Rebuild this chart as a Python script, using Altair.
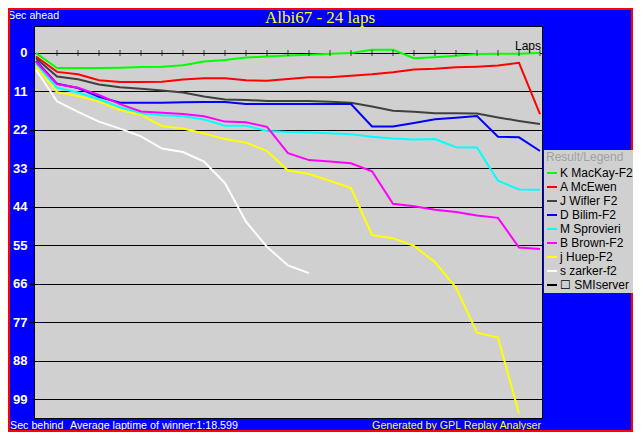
import altair as alt
import pandas as pd

# ---- data ----
laps = list(range(25))
drivers = ["K MacKay-F2", "A McEwen", "J Wifler F2", "D Bilim-F2",
           "M Sprovieri", "B Brown-F2", "j Huep-F2", "s zarker-f2"]
extra_entry = "\u2610 SMIserver"
colors = ["#00ff00", "#ff0000", "#404040", "#0000ff",
          "#00ffff", "#ff00ff", "#ffff00", "#ffffff", "#000000"]

mackay = [0, 4.3, 4.3, 4.3, 4.2, 4.0, 3.9, 3.5, 2.4, 2.0, 1.3, 1.0, 0.75, 0.5,
          0.2, 0.0, -0.9, -0.9, 1.5, 1.2, 0.8, 0.3, 0.2, 0.2, 0.0]
mcewen = [1.0, 5.4, 6.1, 7.8, 8.3, 8.3, 8.2, 7.6, 7.25, 7.2, 7.8, 7.9, 7.4, 6.9,
          6.9, 6.5, 6.1, 5.5, 4.7, 4.5, 4.1, 3.9, 3.6, 2.8, 17.5]
wifler = [1.5, 6.7, 7.5, 9.0, 9.8, 10.2, 10.7, 11.3, 12.4, 13.3, 13.4, 13.7, 13.7,
          13.7, 13.9, 14.2, 15.3, 16.5, 16.8, 17.2, 17.2, 17.3, 18.4, 19.4, 20.3]
bilim = [2.3, 8.8, 10.0, 12.5, 14.2, 14.2, 14.2, 14.1, 14.0, 14.0, 14.6, 14.6,
         14.6, 14.6, 14.6, 14.6, 21.0, 21.0, 20.0, 18.9, 18.5, 18.0, 23.9, 24.1, 28.0]
sprovieri = [3.2, 9.9, 11.3, 13.2, 15.5, 17.2, 17.8, 18.1, 19.0, 20.8, 20.8, 22.3,
             22.6, 22.7, 22.9, 23.2, 23.9, 24.4, 24.7, 24.6, 26.9, 27.0, 36.5, 39.0, 39.1]
brown = [2.5, 8.9, 9.9, 12.0, 14.6, 16.7, 17.1, 17.4, 18.1, 19.6, 19.8, 21.1,
         28.6, 30.6, 31.0, 31.5, 33.8, 43.1, 43.8, 44.8, 45.4, 46.4, 47.1, 55.6, 56.0]
huep = [3.8, 11.2, 12.3, 13.9, 16.3, 17.7, 20.9, 21.6, 23.0, 24.6, 25.6, 28.0,
        33.6, 34.6, 36.5, 38.6, 52.0, 52.9, 55.1, 59.8, 67.0, 79.9, 81.3, 103.0]
zarker = [4.8, 13.8, 16.8, 19.6, 21.6, 23.8, 27.3, 28.3, 31.0, 37.2, 48.2, 55.4,
          60.7, 62.9]

series = [mackay, mcewen, wifler, bilim, sprovieri, brown, huep, zarker]
y_ticks = [0, 11, 22, 33, 44, 55, 66, 77, 88, 99]
tick_laps = list(range(1, 25))

rows = []
for name, vals in zip(drivers, series):
    for lap, v in zip(laps, vals):
        rows.append({"driver": name, "lap": lap, "sec": v})
df = pd.DataFrame(rows)
ticks_df = pd.DataFrame({"lap": tick_laps})
one = pd.DataFrame({"a": [0]})

FONT = "Liberation Sans"
PAD_L, PAD_T, PAD_R, PAD_B = 26, 18, 91, 14
W, H = 508, 392          # plot area; whole chart = 625 x 424

x_scale = alt.Scale(domain=[-0.095, 24.095], nice=False, zero=False)
y_scale = alt.Scale(domain=[-7.714, 104.29], reverse=True, nice=False, zero=False)

lines = alt.Chart(df).mark_line(strokeWidth=2, clip=True).encode(
    x=alt.X("lap:Q", scale=x_scale, axis=None),
    y=alt.Y("sec:Q", scale=y_scale,
            axis=alt.Axis(values=y_ticks, grid=True, gridColor="black",
                          gridOpacity=1, gridWidth=1, domain=False,
                          tickColor="black", tickSize=5, tickWidth=1,
                          labelColor="white", labelFont=FONT,
                          labelFontWeight="bold", labelFontSize=13,
                          labelPadding=2, title=None)),
    color=alt.Color("driver:N",
                    scale=alt.Scale(domain=drivers + [extra_entry], range=colors),
                    sort=drivers + [extra_entry],
                    legend=alt.Legend(title="Result/Legend")),
    order=alt.Order("lap:Q"),
)

lap_ticks = alt.Chart(ticks_df).mark_tick(orient="vertical", size=6,
                                          thickness=1, color="black").encode(
    x=alt.X("lap:Q", scale=x_scale, axis=None),
    y=alt.datum(0),
)


def label(text, x, y, color="white", size=10.7, align="left", font=FONT):
    return alt.Chart(one).mark_text(align=align, baseline="alphabetic",
                                    font=font, fontSize=size, color=color).encode(
        x=alt.value(x), y=alt.value(y), text=alt.value(text))


title = label("Albi67 - 24 laps", 286, -3, color="#ffff00", size=17,
              align="center", font="Liberation Serif")
sec_ahead = label("Sec ahead", -26, -7)
laps_lbl = label("Laps", 507, 24, color="black", size=12, align="right")
sec_behind = label("Sec behind", -24, 403)
avg = label("Average laptime of winner:1:18.599", 36, 403)
gen = label("Generated by GPL Replay Analyser", 507, 403, color="#ffff00",
            align="right")

border = alt.Chart(one).mark_rect(filled=False, stroke="#ff0000",
                                  strokeWidth=4).encode(
    x=alt.value(-PAD_L), x2=alt.value(W + PAD_R),
    y=alt.value(-PAD_T), y2=alt.value(H + PAD_B))

chart = alt.layer(lines, lap_ticks, title, sec_ahead, laps_lbl, sec_behind,
                  avg, gen, border).properties(
    width=W, height=H,
    padding={"left": PAD_L, "top": PAD_T, "right": PAD_R, "bottom": PAD_B},
    autosize=alt.AutoSizeParams(type="none"),
    background="#0000ff",
).configure_view(
    fill="#d0d0d0", stroke="black", strokeWidth=1,
).configure_legend(
    orient="none", legendX=510, legendY=124,
    fillColor="#d0d0d0", padding=2,
    symbolType="stroke", symbolStrokeWidth=2, symbolSize=100,
    labelFont=FONT, labelFontSize=12, labelColor="black", labelOffset=2,
    titleFont=FONT, titleFontSize=12, titleFontWeight="normal",
    titleColor="#a0a0a0", titlePadding=3, rowPadding=2,
)

chart.save("out.html", embed_options={"renderer": "svg", "actions": False})
